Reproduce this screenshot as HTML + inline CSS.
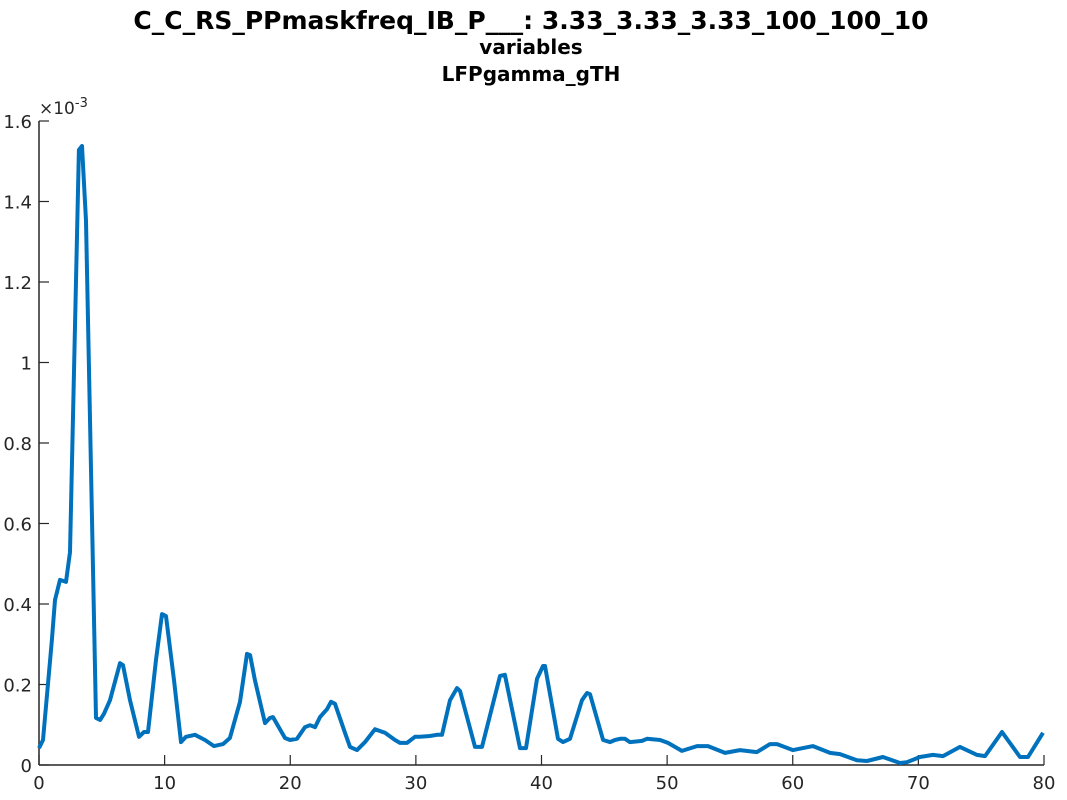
<!DOCTYPE html>
<html><head><meta charset="utf-8"><style>
body{margin:0;background:#fff;}
svg{display:block;font-family:"DejaVu Sans","Liberation Sans",sans-serif;}
</style></head><body>
<svg id="c" width="1067" height="800">
<text x="531" y="29" text-anchor="middle" font-size="25" font-weight="bold" fill="#000">C_C_RS_PPmaskfreq_IB_P___: 3.33_3.33_3.33_100_100_10</text>
<text x="531" y="54" text-anchor="middle" font-size="20" font-weight="bold" fill="#000">variables</text>
<text x="531" y="81" text-anchor="middle" font-size="20" font-weight="bold" fill="#000">LFPgamma_gTH</text>
<text x="39" y="114" font-size="17" fill="#262626">×10<tspan dy="-7" font-size="13">-3</tspan></text>
<g id="axes"></g>
<g id="series"></g>
</svg>
<script>
const xTicks=[0,10,20,30,40,50,60,70,80];
const yTicks=[0,0.2,0.4,0.6,0.8,1,1.2,1.4,1.6];
const yTickLabels=["0","0.2","0.4","0.6","0.8","1","1.2","1.4","1.6"];
const freqs=[0,0.32,1.03,1.27,1.67,2.15,2.47,3.18,3.42,3.74,4.54,4.86,5.17,5.65,6.45,6.69,7.24,7.96,8.36,8.68,9.31,9.79,10.11,10.75,11.30,11.70,12.42,13.21,13.93,14.65,15.2,16.0,16.56,16.8,17.19,17.99,18.39,18.63,19.58,19.98,20.54,21.17,21.57,21.97,22.37,22.93,23.24,23.56,24.36,24.76,25.31,25.95,26.75,27.54,28.34,28.74,29.29,29.93,30.33,31.12,31.68,32.08,32.72,33.27,33.51,34.71,35.26,36.70,37.09,38.29,38.77,39.64,40.12,40.28,41.31,41.71,42.27,43.22,43.62,43.86,44.90,45.45,45.85,46.25,46.65,47.04,48.0,48.4,49.44,50.07,51.18,52.38,53.25,54.61,55.80,57.15,58.19,58.75,60.02,61.61,62.97,63.76,65.11,65.91,67.18,68.54,69.09,70.13,71.16,71.96,73.31,74.67,75.30,76.66,78.09,78.73,79.92];
const power=[.042,.062,.311,.41,.46,.455,.529,1.528,1.538,1.352,.117,.112,.127,.161,.253,.248,.161,.07,.082,.082,.261,.375,.37,.211,.057,.07,.075,.062,.047,.052,.067,.157,.276,.273,.211,.104,.117,.119,.067,.062,.065,.094,.099,.094,.119,.139,.157,.152,.080,.045,.037,.057,.089,.080,.062,.055,.055,.070,.070,.072,.075,.075,.161,.191,.184,.045,.045,.221,.224,.042,.042,.214,.246,.246,.065,.057,.065,.161,.179,.176,.062,.057,.062,.065,.065,.057,.060,.065,.062,.055,.035,.047,.047,.030,.037,.032,.052,.052,.037,.047,.030,.027,.012,.010,.020,.005,.007,.020,.025,.022,.045,.025,.022,.082,.020,.020,.080];
const L=39,R=1044,T=121,B=765;
const xs=v=>L+(v-0)/80*(R-L);
const ys=v=>B-(v/1.6)*(B-T);
const NS="http://www.w3.org/2000/svg";
const ax=document.getElementById('axes');
function mk(tag,attrs,parent){const e=document.createElementNS(NS,tag);for(const k in attrs)e.setAttribute(k,attrs[k]);parent.appendChild(e);return e;}
let a=mk('line',{x1:L,y1:B,x2:R,y2:B,stroke:'#262626','stroke-width':1.5},ax);


a=mk('line',{x1:L,y1:T,x2:L,y2:B,stroke:'#262626','stroke-width':1.5},ax);


xTicks.forEach(t=>{
 const x=xs(t);
 const l=mk('line',{x1:x,y1:B,x2:x,y2:B-10,stroke:'#262626','stroke-width':1.2},ax);
 
 
 const tx=mk('text',{x:x,y:B+24,'text-anchor':'middle','font-size':18,fill:'#262626'},ax);
 tx.textContent=t;
 
 
});
yTicks.forEach((t,i)=>{
 const y=ys(t);
 const l=mk('line',{x1:L,y1:y,x2:L+10,y2:y,stroke:'#262626','stroke-width':1.2},ax);
 
 
 const tx=mk('text',{x:L-7,y:y+7,'text-anchor':'end','font-size':18,fill:'#262626'},ax);
 tx.textContent=yTickLabels[i];
 
 
});
const d=freqs.map((f,i)=>(i?'L':'M')+xs(f).toFixed(1)+','+ys(power[i]).toFixed(1)).join(' ');
const p=mk('path',{d:d,fill:'none',stroke:'#0072BD','stroke-width':4,'stroke-linejoin':'round'},document.getElementById('series'));


</script>
</body></html>
